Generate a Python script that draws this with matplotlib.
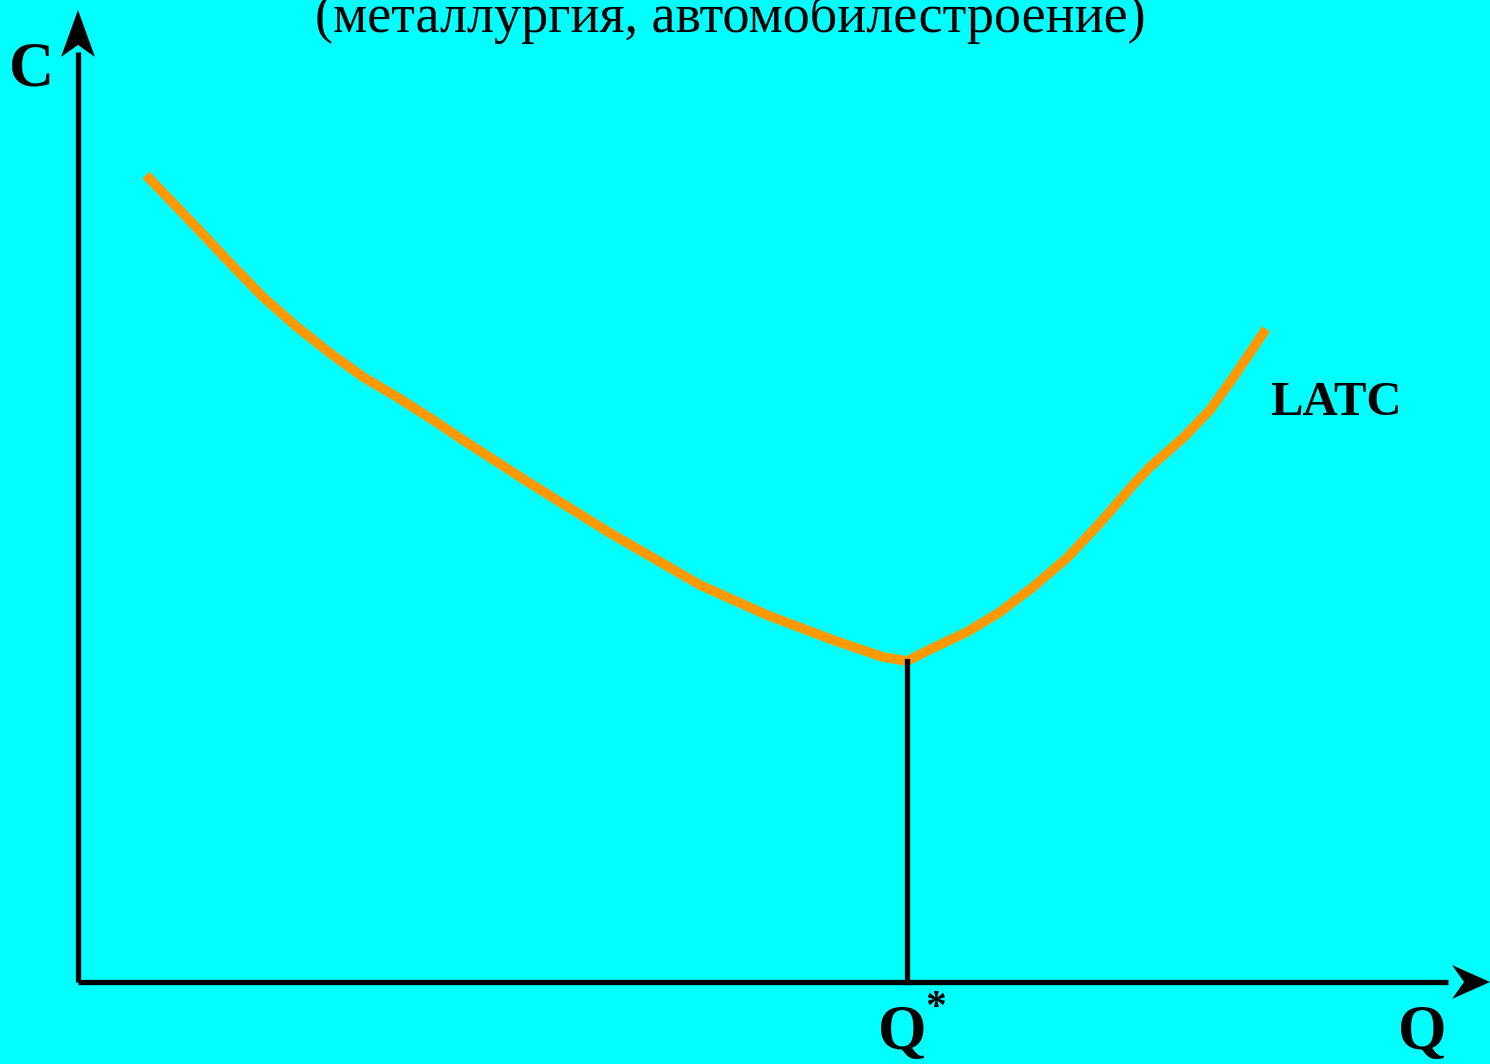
import matplotlib.pyplot as plt

# LATC curve (Q, C units = pixels from origin)
q_vals = [68, 95, 119, 152, 185, 219, 252, 285, 319, 352, 385, 419, 450,
          532, 622, 689, 755, 805, 829,
          855, 889, 922, 955, 989, 1022, 1055, 1072, 1105, 1132, 1155, 1188]
c_vals = [807, 779, 754, 719, 685, 655, 629, 605, 585, 564, 542, 520, 500,
          449, 397, 367, 342, 325, 321,
          334, 350, 370, 395, 424, 459, 497, 515, 544, 572, 604, 653]
q_star = 829
c_min = 321
title = '(металлургия, автомобилестроение)'

bg = '#00FFFF'
orange = '#FF9900'
serif = ['Liberation Serif', 'DejaVu Serif']

fig = plt.figure(figsize=(14.9, 10.64), dpi=100, facecolor=bg)
ax = fig.add_axes([0, 0, 1, 1])
ax.set_facecolor(bg)
ax.set_xlim(-78, 1412)
ax.set_ylim(-82, 982)
ax.axis('off')

# axes with arrowheads
ax.plot([0, 0], [0, 930], color='black', lw=3.8, solid_capstyle='butt')
ax.plot([0, 1370], [0, 0], color='black', lw=3.8, solid_capstyle='butt')
ax.fill([0, -17, 0, 17], [972, 925, 937, 925], color='black', lw=0)
ax.fill([1412, 1374, 1386, 1374], [0, 17, 0, -17], color='black', lw=0)

ax.plot(q_vals, c_vals, color=orange, lw=7, solid_capstyle='butt',
        solid_joinstyle='round')
ax.plot([q_star, q_star], [0, c_min], color='black', lw=3.8)

ax.text(652, 950, title, ha='center', va='baseline', fontsize=39,
        family=serif)
ax.text(-46, 897, 'C', ha='center', va='baseline', fontsize=45,
        fontweight='bold', family=serif)
ax.text(1344, -67, 'Q', ha='center', va='baseline', fontsize=45,
        fontweight='bold', family=serif)
ax.text(q_star - 5, -67, 'Q', ha='center', va='baseline', fontsize=45,
        fontweight='bold', family=serif)
ax.text(q_star + 18, -37, '*', ha='left', va='baseline', fontsize=30,
        fontweight='bold', family=serif)
ax.text(1192, 567, 'LATC', ha='left', va='baseline', fontsize=35,
        fontweight='bold', family=serif)

fig.savefig('out.png', dpi=100, facecolor=bg)
